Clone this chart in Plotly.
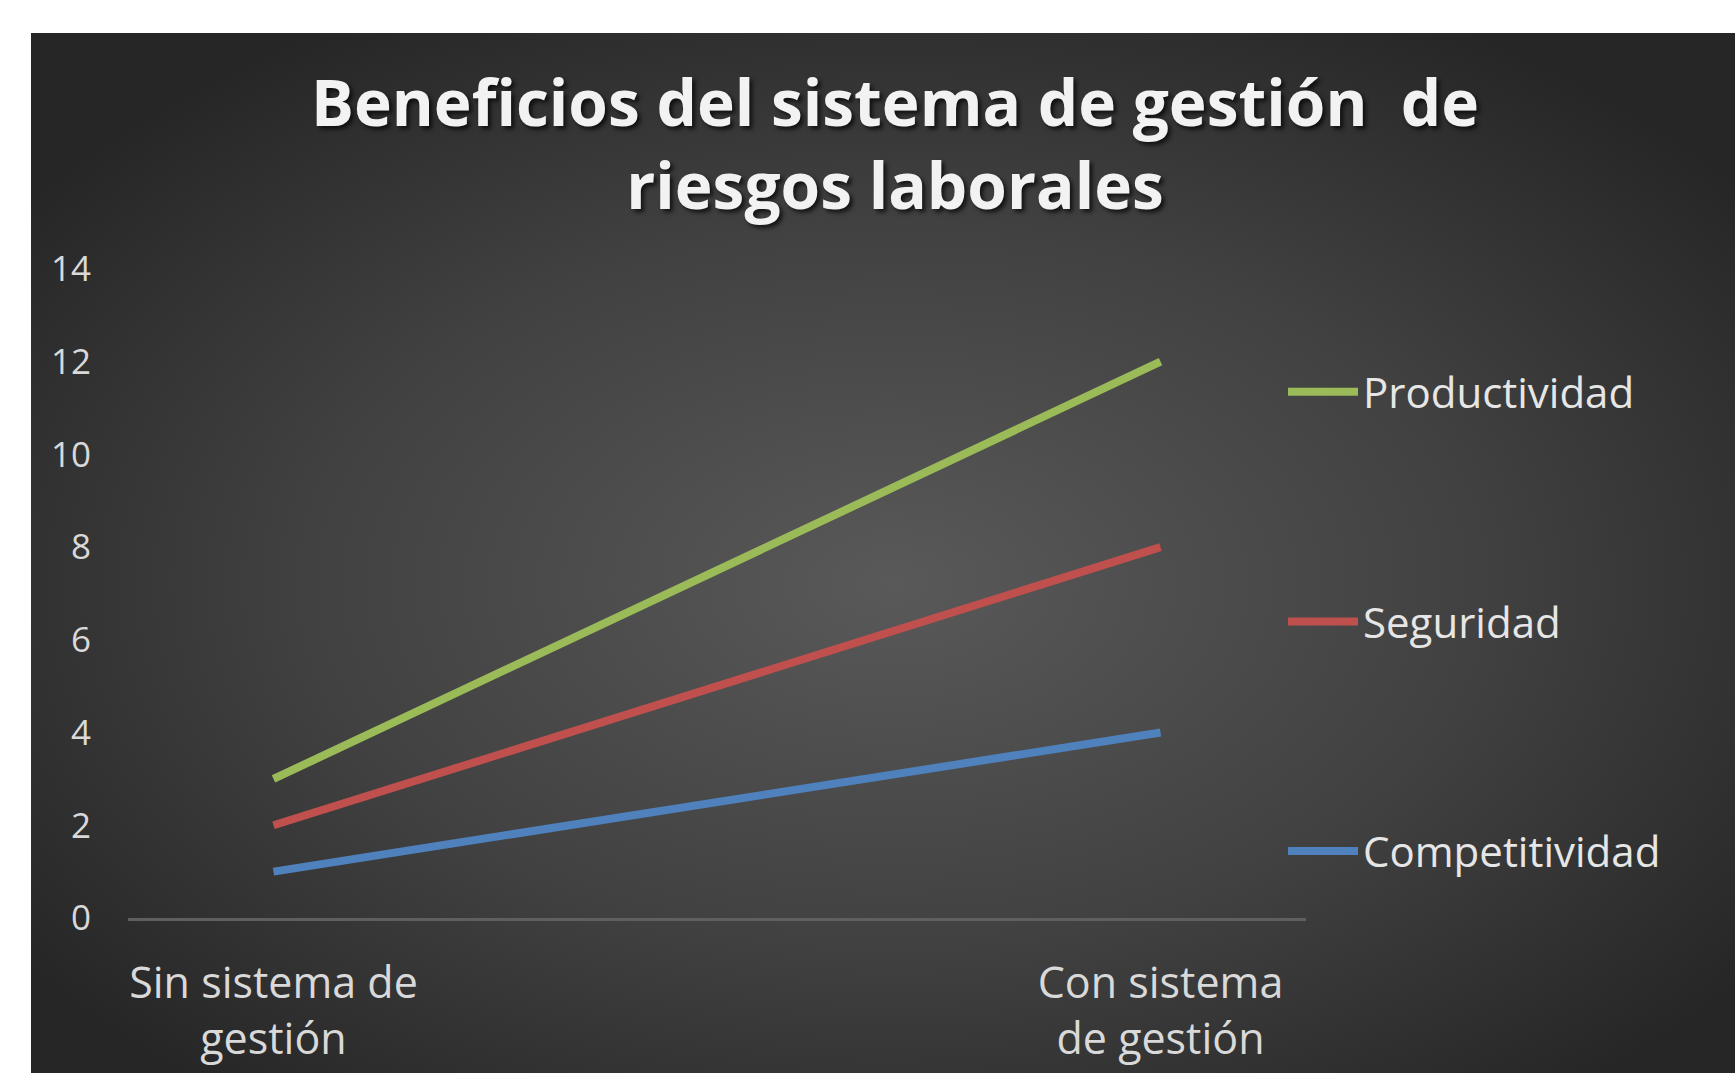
import base64
import plotly.graph_objects as go

# ---- data ----
categories = ["Sin sistema de<br>gestión", "Con sistema<br>de gestión"]
series_names = ["Productividad", "Seguridad", "Competitividad"]
productividad = [3, 12]
seguridad = [2, 8]
competitividad = [1, 4]
y_ticks = [0, 2, 4, 6, 8, 10, 12, 14]
colors = ["#9BBB59", "#C0504D", "#4F81BD"]
title_text = "Beneficios del sistema de gestión  de<br>riesgos laborales"

W, H = 1735, 1073
ML, MR, MT, MB = 128, 429, 269, 155
PW, PH = W - ML - MR, H - MT - MB

# background panel with radial gradient (SVG data URI)
svg = f'''<svg xmlns="http://www.w3.org/2000/svg" width="{W}" height="{H}" viewBox="0 0 {W} {H}" preserveAspectRatio="none">
<defs><radialGradient id="g" cx="0.5" cy="0.52" r="0.62" fx="0.5" fy="0.52">
<stop offset="0" stop-color="#595959"/>
<stop offset="0.55" stop-color="#414141"/>
<stop offset="1" stop-color="#262626"/>
</radialGradient></defs>
<rect x="0" y="0" width="{W}" height="{H}" fill="url(#g)"/></svg>'''
src = "data:image/svg+xml;base64," + base64.b64encode(svg.encode()).decode()

panel_left, panel_top = 31, 33
panel_right, panel_bottom = W + 20, H + 20
img_x = (panel_left - ML) / PW
img_y = (H - MB - panel_top) / PH
img_sx = (panel_right - panel_left) / PW
img_sy = (panel_bottom - panel_top) / PH

fig = go.Figure()
for i, (name, vals) in enumerate(zip(series_names, [productividad, seguridad, competitividad])):
    fig.add_trace(go.Scatter(
        x=categories, y=vals, mode="lines", name=name,
        line=dict(color=colors[i], width=8),
        legendgroup=name,
    ))

fig.update_layout(
    width=W, height=H,
    margin=dict(l=ML, r=MR, t=MT, b=MB, autoexpand=False),
    paper_bgcolor="white",
    plot_bgcolor="rgba(0,0,0,0)",
    font=dict(family="Open Sans", color="#d9d9d9"),
    title=dict(
        text=title_text,
        x=895 / W, xanchor="center",
        y=1 - 126 / H, yanchor="middle",
        font=dict(family="Open Sans", size=64, color="#f2f2f2", weight="bold",
                  shadow="3px 3px 4px rgba(0,0,0,0.7)"),
    ),
    images=[dict(source=src, xref="paper", yref="paper", x=img_x, y=img_y,
                 sizex=img_sx, sizey=img_sy, sizing="stretch", layer="below",
                 xanchor="left", yanchor="top")],
    xaxis=dict(
        type="category", range=[-0.164, 1.164], automargin=False,
        showgrid=False, zeroline=False,
        showline=True, linecolor="#5f5f5f", linewidth=3,
        ticks="", tickfont=dict(size=43, color="#d9d9d9"),
        ticklabelstandoff=25,
    ),
    yaxis=dict(
        range=[0, 14], tickvals=y_ticks, automargin=False,
        showgrid=False, zeroline=False, showline=False,
        ticks="", tickfont=dict(size=35, color="#d9d9d9"),
        ticklabelstandoff=36,
    ),
    legend=dict(
        x=(1283 - ML) / PW, xanchor="left",
        y=(H - MB - 358) / PH, yanchor="top",
        bgcolor="rgba(0,0,0,0)",
        font=dict(size=42, color="#e6e6e6"),
        tracegroupgap=172,
        itemwidth=70,
    ),
    showlegend=True,
)

fig.write_html(
    "out.html",
    config={"displayModeBar": False},
    post_script="document.body.style.margin='0';document.body.style.overflow='hidden';",
)
